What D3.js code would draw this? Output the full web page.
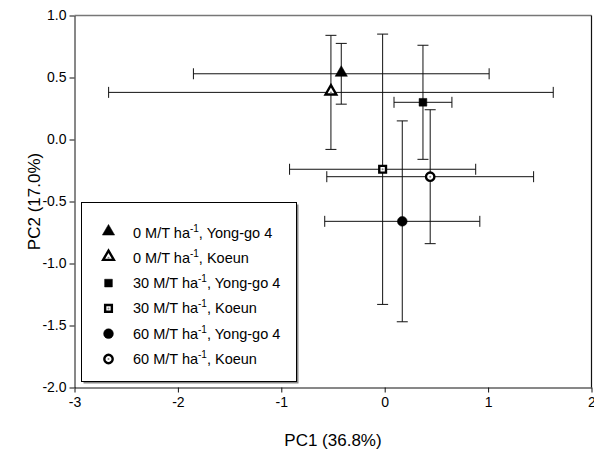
<!DOCTYPE html>
<html>
<head>
<meta charset="utf-8">
<script src="https://cdn.jsdelivr.net/npm/d3@7"></script>
<style>
  body { margin: 0; background: #fff; }
  svg { font-family: "Liberation Sans", Arial, sans-serif; }
</style>
</head>
<body>
<svg id="chart"></svg>
<script>
// treatment groups
const doses = ["0", "0", "30", "30", "60", "60"];
const cultivars = ["Yong-go 4", "Koeun", "Yong-go 4", "Koeun", "Yong-go 4", "Koeun"];

// PC scores with error (half-width of the bars)
const pc1 = [-0.42, -0.52, 0.37, -0.02, 0.17, 0.44];
const pc2 = [0.53, 0.38, 0.30, -0.24, -0.66, -0.30];
const pc1Err = [1.43, 2.15, 0.28, 0.90, 0.75, 1.00];
const pc2Err = [0.245, 0.46, 0.46, 1.09, 0.81, 0.54];

const xTicks = [-3, -2, -1, 0, 1, 2];
const yTicks = [1.0, 0.5, 0.0, -0.5, -1.0, -1.5, -2.0];

const svgWidth = 594, svgHeight = 450;
const plot = {left: 74.5, right: 591.5, top: 15.5, bottom: 387.5};

// marker style per group
const shapes = [d3.symbolTriangle, d3.symbolTriangle, d3.symbolSquare, d3.symbolSquare, d3.symbolCircle, d3.symbolCircle];
const sizes = [65, 50, 60, 45, 75, 55];
const filled = [true, false, true, false, true, false];

const chart = d3.select("#chart")
    .attr("width", svgWidth)
    .attr("height", svgHeight);

var xScale = d3.scaleLinear().domain([-3, 2]).range([plot.left, plot.right]);
var yScale = d3.scaleLinear().domain([-2, 1]).range([plot.bottom, plot.top]);

const data = pc1.map((d, i) => ({
    x: d, y: pc2[i], ex: pc1Err[i], ey: pc2Err[i],
    dose: doses[i], cultivar: cultivars[i], i: i
}));

// frame top / right
chart.append("line")
    .attr("x1", plot.left).attr("x2", plot.right)
    .attr("y1", plot.top).attr("y2", plot.top)
    .attr("stroke", "#777").attr("stroke-width", 1.5);
chart.append("line")
    .attr("x1", plot.right).attr("x2", plot.right)
    .attr("y1", plot.top).attr("y2", plot.bottom)
    .attr("stroke", "#111").attr("stroke-width", 1.2);

// axes
var xAxis = d3.axisBottom(xScale).tickValues(xTicks)
    .tickFormat(d => String(d)).tickSize(5).tickSizeOuter(0).tickPadding(5);
var yAxis = d3.axisLeft(yScale).tickValues(yTicks)
    .tickFormat(d => d.toFixed(1)).tickSize(5).tickSizeOuter(0).tickPadding(3);

const gx = chart.append("g")
    .attr("transform", `translate(0,${plot.bottom})`)
    .call(xAxis);
const gy = chart.append("g")
    .attr("transform", `translate(${plot.left},0)`)
    .call(yAxis);

[gx, gy].forEach(g => {
    g.selectAll("text").attr("font-size", 14).attr("fill", "#000")
        .attr("font-family", "Liberation Sans, Arial, sans-serif");
    g.selectAll("line, path").attr("stroke", "#111");
});

chart.append("text")
    .attr("x", (plot.left + plot.right) / 2)
    .attr("y", 446)
    .attr("text-anchor", "middle")
    .attr("font-size", 17)
    .text("PC1 (36.8%)");

chart.append("text")
    .attr("transform", `translate(40,${(plot.top + plot.bottom) / 2}) rotate(-90)`)
    .attr("text-anchor", "middle")
    .attr("font-size", 17)
    .text("PC2 (17.0%)");

// error bars
const cap = 5.5;
const bars = chart.append("g").attr("stroke", "#111").attr("stroke-width", 1);
data.forEach(d => {
    const cx = xScale(d.x), cy = yScale(d.y);
    const x0 = xScale(d.x - d.ex), x1 = xScale(d.x + d.ex);
    const y0 = yScale(d.y - d.ey), y1 = yScale(d.y + d.ey);
    bars.append("line").attr("x1", x0).attr("x2", x1).attr("y1", cy).attr("y2", cy);
    bars.append("line").attr("x1", x0).attr("x2", x0).attr("y1", cy - cap).attr("y2", cy + cap);
    bars.append("line").attr("x1", x1).attr("x2", x1).attr("y1", cy - cap).attr("y2", cy + cap);
    bars.append("line").attr("x1", cx).attr("x2", cx).attr("y1", y0).attr("y2", y1);
    bars.append("line").attr("x1", cx - cap).attr("x2", cx + cap).attr("y1", y0).attr("y2", y0);
    bars.append("line").attr("x1", cx - cap).attr("x2", cx + cap).attr("y1", y1).attr("y2", y1);
});

function drawMarker(g, i, cx, cy) {
    const sym = d3.symbol().type(shapes[i]).size(sizes[i]);
    const dy = shapes[i] === d3.symbolTriangle ? -1 : 0;
    g.append("path")
        .attr("d", sym())
        .attr("transform", `translate(${cx},${cy + dy})`)
        .attr("fill", filled[i] ? "#000" : "#fff")
        .attr("stroke", "#000")
        .attr("stroke-width", filled[i] ? 0.5 : 2.4);
    if (!filled[i]) {
        g.append("circle").attr("cx", cx).attr("cy", cy).attr("r", 1)
            .attr("fill", "#888");
    }
}

const marks = chart.append("g");
data.forEach(d => drawMarker(marks, d.i, xScale(d.x), yScale(d.y)));

// legend
const lg = {x: 81.5, y: 202.5, w: 215, h: 179};
chart.append("rect")
    .attr("x", lg.x + 2).attr("y", lg.y + 2).attr("width", lg.w).attr("height", lg.h)
    .attr("fill", "#888");
chart.append("rect")
    .attr("x", lg.x).attr("y", lg.y).attr("width", lg.w).attr("height", lg.h)
    .attr("fill", "#fff").attr("stroke", "#000").attr("stroke-width", 1);

const legend = chart.append("g");
data.forEach((d, k) => {
    const ry = lg.y + 30 + k * 25.3;
    drawMarker(legend, d.i, 108.5, ry);
    const t = legend.append("text")
        .attr("x", 133)
        .attr("y", ry + 5)
        .attr("font-size", 14.5);
    t.append("tspan").text(d.dose + " M/T ha");
    t.append("tspan").attr("font-size", 10).attr("dy", -6).text("-1");
    t.append("tspan").attr("dy", 6).text(", " + d.cultivar);
});
</script>
</body>
</html>
